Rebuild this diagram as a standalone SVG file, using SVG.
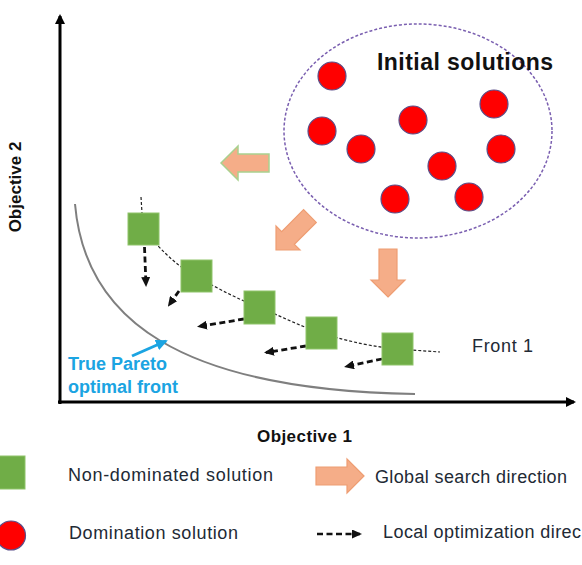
<svg xmlns="http://www.w3.org/2000/svg" width="582" height="565" viewBox="0 0 582 565">
  <style>
    .txt { font-family: "Liberation Sans", Arial, sans-serif; fill: #222a35; }
    .bold { font-weight: bold; }
    .sq { fill: #70ad47; stroke: #8fc46a; stroke-width: 1; }
    .dot { fill: #ff0000; stroke: #5a4f8a; stroke-width: 1.2; }
    .garrow { fill: #f5ad88; stroke: #ee9d72; stroke-width: 1.2; }
    .local { fill: none; stroke: #111; stroke-width: 2.8; stroke-dasharray: 6 3.5; marker-end: url(#headBlack); }
    .front { fill: none; stroke: #222; stroke-width: 1.2; stroke-dasharray: 3 2; }
    .axis { fill: none; stroke: #000; stroke-width: 3; marker-end: url(#headAxis); }
  </style>
  <defs>
    <marker id="headBlack" markerUnits="userSpaceOnUse" markerWidth="10" markerHeight="9" refX="8" refY="4.5" orient="auto">
      <path d="M0,0 L10,4.5 L0,9 Z" fill="#111"/>
    </marker>
    <marker id="headAxis" markerUnits="userSpaceOnUse" markerWidth="10" markerHeight="10" refX="8" refY="5" orient="auto">
      <path d="M0,0 L10,5 L0,10 Z" fill="#000"/>
    </marker>
    <marker id="headBlue" markerUnits="userSpaceOnUse" markerWidth="12" markerHeight="11" refX="10" refY="5.5" orient="auto">
      <path d="M0,0 L12,5.5 L0,11 Z" fill="#1ba4e2"/>
    </marker>
    <path id="bigArrow" d="M0,0 L-17,-17 L-17,-9 L-48,-9 L-48,9 L-17,9 L-17,17 Z"/>
  </defs>

  <g id="axes">
    <path class="axis" d="M60,404 L60,16"/>
    <path class="axis" d="M58,402 L574,402"/>
  </g>

  <g id="pareto-front">
    <path d="M75,204 C85,320 180,390 415,394" fill="none" stroke="#7f7f7f" stroke-width="2"/>
  </g>

  <g id="connectors">
    <path class="front" d="M141,197 L143,229 C165,255 180,268 196,276 C220,290 240,300 259,307 C280,316 300,326 321,333 C350,342 375,347 397,349 L440,352"/>
    <path class="local" d="M144.5,247 L146,285"/>
    <path class="local" d="M179,291 L169,305"/>
    <path class="local" d="M244,319 L199,326.5"/>
    <path class="local" d="M306,346 L266,352.5"/>
    <path class="local" d="M382,359 L346,366.5"/>
    <path d="M132,356 L166,341" fill="none" stroke="#1ba4e2" stroke-width="3" marker-end="url(#headBlue)"/>
    <use id="global-left" href="#bigArrow" transform="translate(221,163) rotate(180)" fill="#f5ad88" stroke="#a9d18e" stroke-width="1.5"/>
    <use id="global-diag" href="#bigArrow" class="garrow" transform="translate(276,250) rotate(135)"/>
    <use id="global-down" href="#bigArrow" class="garrow" transform="translate(388,297) rotate(90)"/>
  </g>

  <g id="initial-solutions">
    <ellipse cx="418" cy="131" rx="134" ry="107" fill="none" stroke="#7a5fb0" stroke-width="1.5" stroke-dasharray="3 2"/>
    <text class="txt bold" x="377" y="70" font-size="23" textLength="176" style="fill:#111">Initial solutions</text>
    <circle class="dot" cx="332" cy="76" r="14"/>
    <circle class="dot" cx="322" cy="131" r="14"/>
    <circle class="dot" cx="361" cy="149" r="14"/>
    <circle class="dot" cx="413" cy="120" r="14"/>
    <circle class="dot" cx="494" cy="104" r="14"/>
    <circle class="dot" cx="501" cy="149" r="14"/>
    <circle class="dot" cx="442" cy="166" r="14"/>
    <circle class="dot" cx="395" cy="199" r="14"/>
    <circle class="dot" cx="469" cy="197" r="14"/>
  </g>

  <g id="front1-solutions">
    <rect id="s1" class="sq" x="128" y="213" width="31" height="32"/>
    <rect id="s2" class="sq" x="181" y="260" width="31" height="32"/>
    <rect id="s3" class="sq" x="244" y="291" width="31" height="33"/>
    <rect id="s4" class="sq" x="306" y="317" width="31" height="32"/>
    <rect id="s5" class="sq" x="382" y="333" width="31" height="32"/>
  </g>

  <g id="labels">
    <text class="txt" x="472" y="352" font-size="18" textLength="61">Front 1</text>
    <text class="txt bold" x="68" y="370" font-size="18" style="fill:#1ba4e2">True Pareto</text>
    <text class="txt bold" x="68" y="393" font-size="18" style="fill:#1ba4e2">optimal front</text>
    <text class="txt bold" x="257" y="442" font-size="17" textLength="95" style="fill:#111">Objective 1</text>
    <text class="txt bold" transform="translate(21,187) rotate(-90)" text-anchor="middle" font-size="17" style="fill:#111">Objective 2</text>
  </g>

  <g id="legend">
    <rect class="sq" x="-6" y="456" width="31" height="33"/>
    <text class="txt" x="68" y="481" font-size="18" textLength="205">Non-dominated solution</text>
    <circle class="dot" cx="11" cy="535.5" r="14.5"/>
    <text class="txt" x="69" y="539" font-size="18" textLength="169">Domination solution</text>
    <use href="#bigArrow" class="garrow" transform="translate(364,476)"/>
    <text class="txt" x="375" y="483" font-size="18" textLength="192">Global search direction</text>
    <path d="M317,534 L360,534" fill="none" stroke="#111" stroke-width="2.4" stroke-dasharray="6 3.5" marker-end="url(#headBlack)"/>
    <text class="txt" x="383" y="538" font-size="18" textLength="198">Local optimization direc</text>
  </g>
</svg>
